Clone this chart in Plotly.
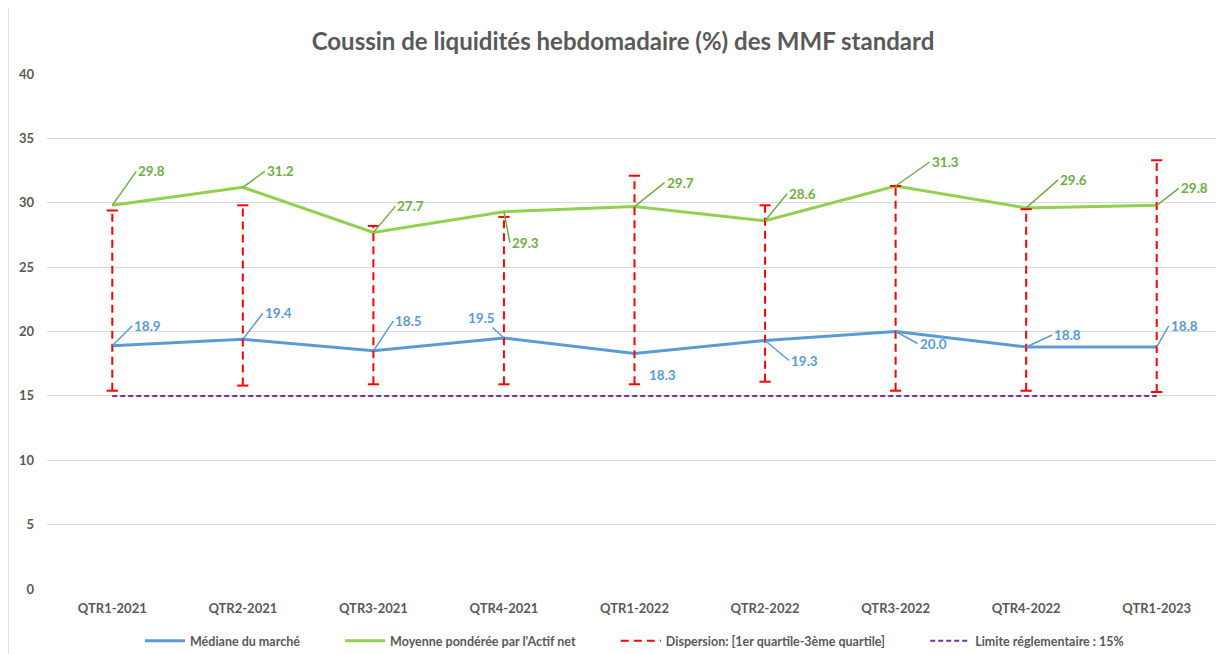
import plotly.graph_objects as go

categories = ["QTR1-2021", "QTR2-2021", "QTR3-2021", "QTR4-2021", "QTR1-2022",
              "QTR2-2022", "QTR3-2022", "QTR4-2022", "QTR1-2023"]
mediane = [18.9, 19.4, 18.5, 19.5, 18.3, 19.3, 20.0, 18.8, 18.8]
moyenne = [29.8, 31.2, 27.7, 29.3, 29.7, 28.6, 31.3, 29.6, 29.8]
q1 = [15.4, 15.8, 15.9, 15.9, 15.9, 16.1, 15.4, 15.4, 15.3]
q3 = [29.4, 29.8, 28.2, 28.9, 32.1, 29.8, 31.3, 29.5, 33.3]
limite = [15] * len(categories)

# label offsets in pixels (dx, dy, xanchor)
med_off = [(20, -20, "left"), (20, -26, "left"), (20, -30, "left"), (-22, -20, "center"),
           (12, 22, "left"), (24, 20, "left"), (22, 12, "left"), (26, -12, "left"), (12, -21, "left")]
moy_off = [(24, -34, "left"), (22, -16, "left"), (22, -26, "left"), (6, 31, "left"),
           (30, -24, "left"), (22, -27, "left"), (34, -24, "left"), (32, -28, "left"), (22, -17, "left")]

BLUE = "#5B9BD5"
GREEN = "#92D050"
GREEN_T = "#70AD47"
RED = "#FF0000"
PURPLE = "#7030A0"
GRAY = "#595959"
FONT = "Lato"
PAD = "\u00a0" * 11

W, H = 1224, 654
ML, MR, MT, MB = 39, 10, 66, 73
PW, PH = W - ML - MR, H - MT - MB

xi = list(range(len(categories)))

fig = go.Figure()

fig.add_trace(go.Scatter(x=xi, y=mediane, mode="lines", name="<b>Médiane du marché</b>" + PAD,
                         line=dict(color=BLUE, width=3)))
fig.add_trace(go.Scatter(x=xi, y=moyenne, mode="lines",
                         name="<b>Moyenne pondérée par l'Actif net</b>" + PAD,
                         line=dict(color=GREEN, width=3)))

# dispersion segments
dx, dy = [], []
for i in xi:
    dx += [i, i, None]
    dy += [q1[i], q3[i], None]
fig.add_trace(go.Scatter(x=dx, y=dy, mode="lines",
                         name="<b>Dispersion: [1er quartile-3ème quartile]</b>" + PAD,
                         line=dict(color=RED, width=2, dash="8px,5px")))
fig.add_trace(go.Scatter(x=xi + xi, y=q1 + q3, mode="markers", showlegend=False,
                         marker=dict(symbol="line-ew", size=8, line=dict(color=RED, width=2))))

fig.add_trace(go.Scatter(x=xi, y=limite, mode="lines", name="<b>Limite réglementaire : 15%</b>",
                         line=dict(color=PURPLE, width=2, dash="5px,3px")))

annotations = []
for i in xi:
    ox, oy, xa = med_off[i]
    annotations.append(dict(x=i, y=mediane[i], xref="x", yref="y", text=f"<b>{mediane[i]:.1f}</b>",
                            showarrow=True, arrowhead=0, arrowwidth=1.5, arrowcolor=BLUE,
                            ax=ox, ay=oy, xanchor=xa, yanchor="middle", standoff=0,
                            font=dict(family=FONT, size=13.5, color=BLUE)))
    ox, oy, xa = moy_off[i]
    annotations.append(dict(x=i, y=moyenne[i], xref="x", yref="y", text=f"<b>{moyenne[i]:.1f}</b>",
                            showarrow=True, arrowhead=0, arrowwidth=1.5, arrowcolor=GREEN_T,
                            ax=ox, ay=oy, xanchor=xa, yanchor="middle", standoff=0,
                            font=dict(family=FONT, size=13.5, color=GREEN_T)))

fig.update_layout(
    width=W, height=H,
    paper_bgcolor="white", plot_bgcolor="white",
    margin=dict(l=ML, r=MR, t=MT, b=MB, autoexpand=False),
    title=dict(text="<b>Coussin de liquidités hebdomadaire (%) des MMF standard</b>",
               x=615 / W, xanchor="center", y=1 - 34 / H, yanchor="middle",
               font=dict(family=FONT, size=24, color=GRAY)),
    font=dict(family=FONT, color=GRAY),
    legend=dict(orientation="h", x=0.5, xanchor="center", y=-(633 - (MT + PH)) / PH, yanchor="middle",
                font=dict(family=FONT, size=12.5, color=GRAY), itemwidth=40,
                tracegroupgap=0),
    annotations=annotations,
    shapes=[dict(type="line", xref="paper", yref="paper",
                 x0=-ML / PW, x1=-ML / PW, y0=-MB / PH, y1=(PH + MT) / PH,
                 line=dict(color="#D9D9D9", width=1.5))],
    showlegend=True,
)
fig.update_xaxes(range=[-0.5, 8.5], tickmode="array", tickvals=xi,
                 ticktext=[f"<b>{c}</b>" for c in categories],
                 showgrid=False, zeroline=False, showline=False, ticks="",
                 ticklabelstandoff=10,
                 tickfont=dict(family=FONT, size=13, color=GRAY))
fig.update_yaxes(range=[0, 40], dtick=5, showgrid=True, gridcolor="#D9D9D9", gridwidth=1,
                 zeroline=False, showline=False, ticks="",
                 ticklabelstandoff=12,
                 tickprefix="<b>", ticksuffix="</b>",
                 tickfont=dict(family=FONT, size=13, color=GRAY))

fig.write_html("out.html")
